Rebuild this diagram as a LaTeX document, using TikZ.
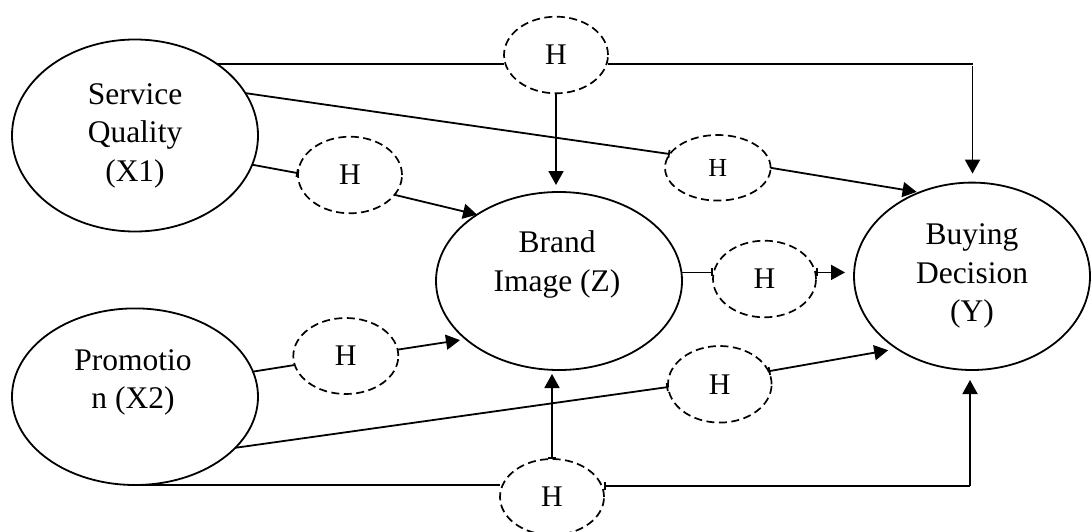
\documentclass[tikz,border=0pt]{standalone}
\usepackage{fontspec}
\setmainfont{Liberation Serif}
\usetikzlibrary{shapes.geometric,arrows.meta,calc}
\begin{document}
\begin{tikzpicture}[x=1pt,y=-1pt,
  big/.style={ellipse, draw, line width=1.8pt, inner sep=0pt, outer sep=0pt, align=center, font=\fontsize{31.5}{38.5}\selectfont},
  hyp/.style={ellipse, draw, line width=1.7pt, dash pattern=on 8pt off 4.5pt, inner sep=0pt, outer sep=0pt, font=\fontsize{30}{36}\selectfont},
  txt/.style={align=center, inner sep=0pt, font=\fontsize{31.5}{38.5}\selectfont},
  conn/.style={line width=1.8pt},
  arr/.style={conn, -{Triangle[length=14pt,width=15pt]}},
  bararr/.style={conn, {Bar[width=8pt]}-{Triangle[length=14pt,width=15pt]}},
  barend/.style={conn, -{Bar[width=8pt]}},
  barstart/.style={conn, {Bar[width=8pt]}-},
]
\useasboundingbox (0,0) rectangle (1091,532);

% main constructs
\node[big, minimum width=246pt, minimum height=192pt] (sq) at (135,135.5) {Service\\Quality\\(X1)};
\node[big, minimum width=246pt, minimum height=176.6pt] (pr) at (135,396.7) {};
\node[txt] (prt) at (133,382.5) {Promotio\\n (X2)};
\node[big, minimum width=246pt, minimum height=178pt] (bz) at (559,281) {};
\node[txt] (bzt) at (557,264.5) {Brand\\Image (Z)};
\node[big, minimum width=236pt, minimum height=187.4pt] (yb) at (972,276.3) {Buying\\Decision\\(Y)};

% hypothesis nodes
\node[hyp, minimum width=104pt, minimum height=76.6pt] (ht) at (556,55) {H};
\node[hyp, minimum width=104pt, minimum height=76.6pt] (h1) at (350,175) {H};
\node[hyp, minimum width=105.6pt, minimum height=65.6pt, font=\fontsize{26}{30}\selectfont] (h2) at (717.8,167.8) {H};
\node[hyp, minimum width=105pt, minimum height=76pt] (h3) at (345.8,356) {H};
\node[hyp, minimum width=103pt, minimum height=76.6pt] (h4) at (764.5,279) {H};
\node[hyp, minimum width=103.6pt, minimum height=76.6pt] (h5) at (719.8,384.3) {H};
\node[hyp, minimum width=104pt, minimum height=76pt] (hb) at (552,497) {H};

\coordinate (c1) at (972.5,63);
\coordinate (c2) at (970,486);

% top path X1 -> H -> Y
\draw[conn] (sq.41) -- (sq.41 -| ht.west);
\draw[conn] (sq.41 -| ht.east) -- (sq.41 -| c1);
\draw[arr, shorten <=3pt, shorten >=9pt] (c1) -- (c1 |- yb.north);
\draw[arr, shorten >=7pt] (ht.south) -- (ht.south |- bz.north);

% X1 -> H -> Y
\draw[barend] (sq.21) -- (h2.164);
\draw[arr, shorten >=3pt] (h2.east) -- (yb.122);

% X1 -> H -> Z
\draw[barend] (sq.-14) -- (h1.178);
\draw[arr] (h1.-24) -- (bz.141);

% X2 -> H -> Z
\draw[conn] (pr.12) -- (h3.190);
\draw[arr, shorten >=6pt] (h3.7) -- (bz.212);

% X2 -> H -> Y
\draw[barend] (pr.-27) -- (h5.183);
\draw[bararr, shorten >=9pt] (h5.15) -- (yb.224);

% Z -> H -> Y
\draw[barend] (bz.4) -- (bz.4 -| h4.west);
\draw[bararr, shorten >=9pt] (bz.4 -| h4.east) -- (bz.4 -| yb.west);

% bottom path X2 -> H -> Z / Y
\draw[bararr, shorten >=4pt] (hb.north) -- (hb.north |- bz.south);
\draw[conn] (pr.south) -- (pr.south -| hb.west);
\draw[barstart] (c2 -| hb.east) -- (c2);
\draw[arr, shorten >=10pt] (c2) -- (c2 |- yb.south);
\end{tikzpicture}
\end{document}
